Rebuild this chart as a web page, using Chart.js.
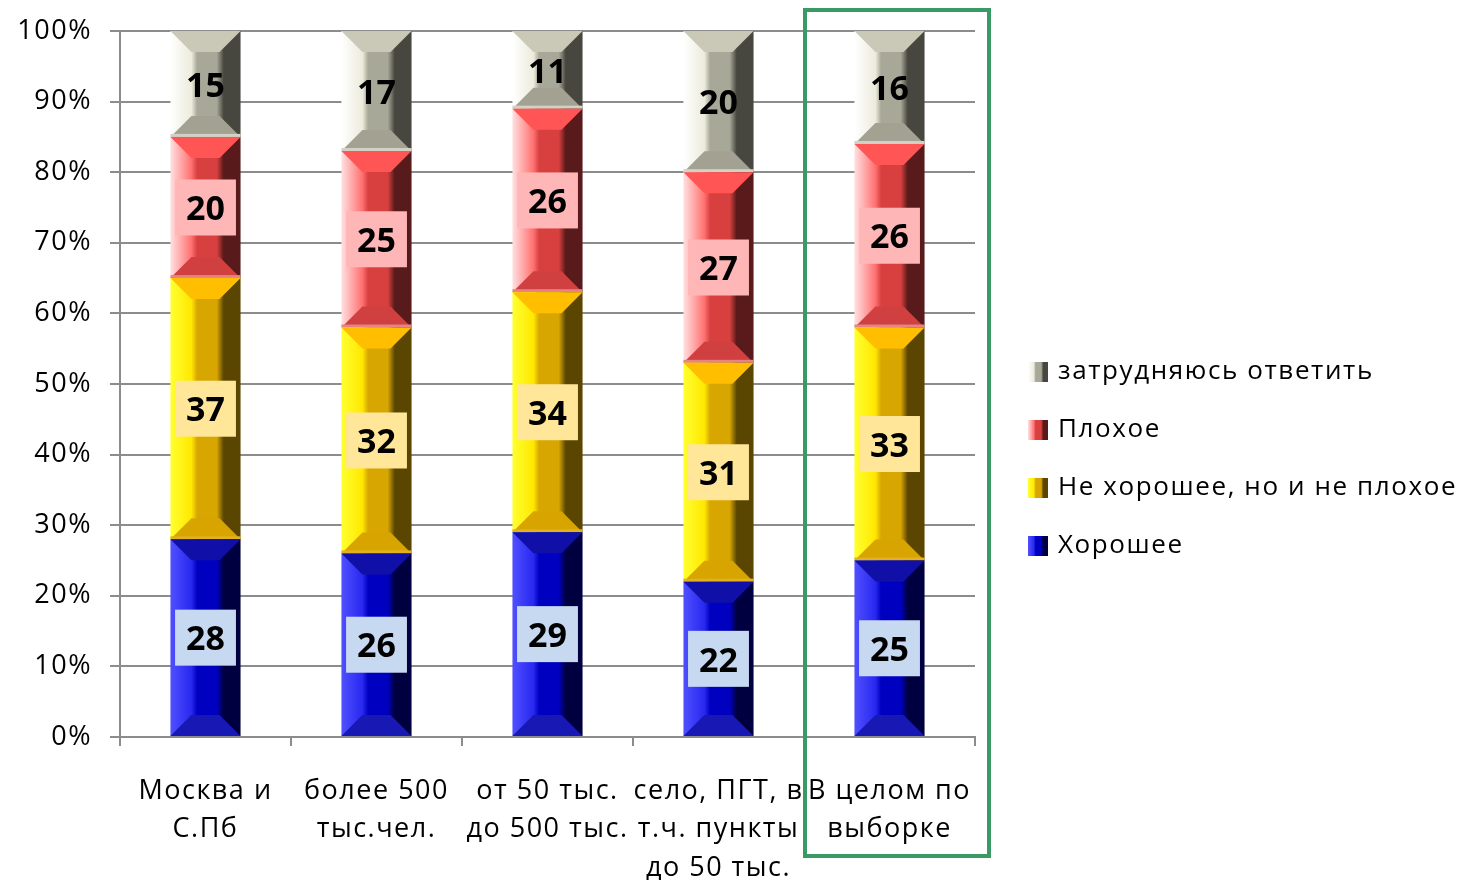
<!DOCTYPE html>
<html><head><meta charset="utf-8">
<script src="https://cdn.jsdelivr.net/npm/chart.js@4/dist/chart.umd.min.js"></script>
<style>html,body{margin:0;background:#fff}</style>
</head><body>
<canvas id="c" width="1464" height="880"></canvas>
<script>
// categories (multi-line labels as in the original)
const categories=[['Москва и','С.Пб'],['более 500','тыс.чел.'],['от 50 тыс.','до 500 тыс.'],['село, ПГТ, в','т.ч. пункты','до 50 тыс.'],['В целом по','выборке']]
const seriesNames=['Хорошее','Не хорошее, но и не плохое','Плохое','затрудняюсь ответить']
const good=[28,26,29,22,25]
const neutral=[37,32,34,31,33]
const bad=[20,25,26,27,26]
const unsure=[15,17,11,20,16]
const yTicks=[0,10,20,30,40,50,60,70,80,90,100]

// look of each series: gradient stops + bevel bands + label box
const PAL=[
  {light:'#5050ff',light2:'#2828f0',base:'#0000c0',dark:'#000040',top:'#1010a8',bottom:'#1818b4',edge:null,box:'#c6d9f1'},
  {light:'#ffff30',light2:'#ffe800',base:'#d8a600',dark:'#5a4600',top:'#ffbf00',bottom:'#d8a400',edge:'#e2b020',box:'#ffe699'},
  {light:'#ffe0e0',light2:'#ff7070',base:'#d84040',dark:'#581a1a',top:'#ff5555',bottom:'#d04040',edge:'#e48484',box:'#ffb6b6'},
  {light:'#ffffff',light2:'#ecebdc',base:'#a8a898',dark:'#474740',top:'#cac8b6',bottom:'#a2a192',edge:'#d2d1c6',box:null}
]
const FONT='"Open Sans", "DejaVu Sans", sans-serif'
const BAR_PCT=0.41

function grad(c,x0,x1,p){
  const g=c.createLinearGradient(x0,0,x1,0)
  g.addColorStop(0,p.light);g.addColorStop(0.3,p.light2);g.addColorStop(0.38,p.base)
  g.addColorStop(0.66,p.base);g.addColorStop(0.76,p.dark);g.addColorStop(1,p.dark)
  return g
}
function barFill(ctx){
  const p=PAL[ctx.datasetIndex], ch=ctx.chart, xs=ch.scales.x
  if(!xs||!ch.chartArea||ctx.dataIndex==null) return p.base
  const cx=xs.getPixelForValue(ctx.dataIndex), hw=xs.width/categories.length*BAR_PCT/2
  return grad(ch.ctx,cx-hw,cx+hw,p)
}

const bevel={id:'bevel',afterDatasetDraw(chart,args){
  const c=chart.ctx,p=PAL[args.index]
  args.meta.data.forEach(el=>{
    const l=el.x-el.width/2,r=el.x+el.width/2,t=Math.min(el.y,el.base),b=Math.max(el.y,el.base)
    const s=Math.min(21,(b-t)/2)
    c.save()
    c.fillStyle=p.top;c.beginPath();c.moveTo(l,t);c.lineTo(r,t);c.lineTo(r-s,t+s);c.lineTo(l+s,t+s);c.closePath();c.fill()
    c.fillStyle=p.bottom;c.beginPath();c.moveTo(l,b);c.lineTo(r,b);c.lineTo(r-s,b-s);c.lineTo(l+s,b-s);c.closePath();c.fill()
    if(p.edge){c.fillStyle=p.edge;c.fillRect(l,b-3,r-l,3)}
    c.restore()
  })
}}

const labels={id:'labels',afterDatasetsDraw(chart){
  const c=chart.ctx
  c.save();c.letterSpacing='0px';c.font='bold 34px '+FONT;c.textAlign='center';c.textBaseline='middle'
  chart.data.datasets.forEach((ds,i)=>{
    chart.getDatasetMeta(i).data.forEach((el,j)=>{
      const y=(el.y+el.base)/2, txt=String(ds.data[j]), w=c.measureText(txt).width+22
      if(PAL[i].box){c.fillStyle=PAL[i].box;c.fillRect(el.x-w/2,y-28,w,56)}
      c.fillStyle='#000';c.fillText(txt,el.x,y+3)
    })
  })
  c.restore()
}}

const extras={id:'extras',
beforeInit(chart){chart.ctx.letterSpacing='1.5px'},
beforeDraw(chart){chart.ctx.letterSpacing='1.5px'},
afterDraw(chart){
  const c=chart.ctx,a=chart.chartArea,xs=chart.scales.x
  // green frame around the total column
  const x0=(xs.getPixelForValue(3)+xs.getPixelForValue(4))/2
  c.save();c.strokeStyle='#3a9a66';c.lineWidth=4
  c.strokeRect(x0+1,10,a.right+14-x0-1,846)
  // legend (reverse order)
  c.letterSpacing='1.6px';c.font='26px '+FONT;c.textBaseline='middle';c.textAlign='left'
  for(let i=3;i>=0;i--){
    const y=372+(3-i)*58, x=a.right+53
    c.fillStyle=grad(c,x,x+20,PAL[i]);c.fillRect(x,y-10,20,20)
    c.fillStyle='#000';c.fillText(seriesNames[i],x+30,y)
  }
  c.restore()
}}

const sets=[good,neutral,bad,unsure].map((d,i)=>({label:seriesNames[i],data:d,backgroundColor:barFill,borderWidth:0,barPercentage:BAR_PCT,categoryPercentage:1}))

new Chart(document.getElementById('c'),{
  type:'bar',
  data:{labels:categories,datasets:sets},
  plugins:[bevel,labels,extras],
  options:{
    responsive:false,animation:false,
    layout:{padding:{left:0,right:489,top:31,bottom:0}},
    plugins:{legend:{display:false},tooltip:{enabled:false}},
    scales:{
      x:{stacked:true,
        afterFit:s=>{s.height=143},
        grid:{offset:true,drawOnChartArea:false,drawTicks:true,tickLength:9,color:'#8c8c8c',lineWidth:2},
        border:{color:'#8c8c8c',width:2},
        ticks:{color:'#000',font:{family:FONT,size:27,lineHeight:1.42},padding:26,maxRotation:0,autoSkip:false}},
      y:{stacked:true,min:0,max:100,
        afterFit:s=>{s.width=120;s.paddingTop=0;s.paddingBottom=0},
        afterBuildTicks:s=>{s.ticks=yTicks.map(v=>({value:v}))},
        grid:{color:'#8c8c8c',lineWidth:2,tickLength:10},
        border:{color:'#8c8c8c',width:2},
        ticks:{color:'#000',font:{family:FONT,size:27},padding:18,callback:v=>v+'%'}}
    }
  }
})
</script>
</body></html>
